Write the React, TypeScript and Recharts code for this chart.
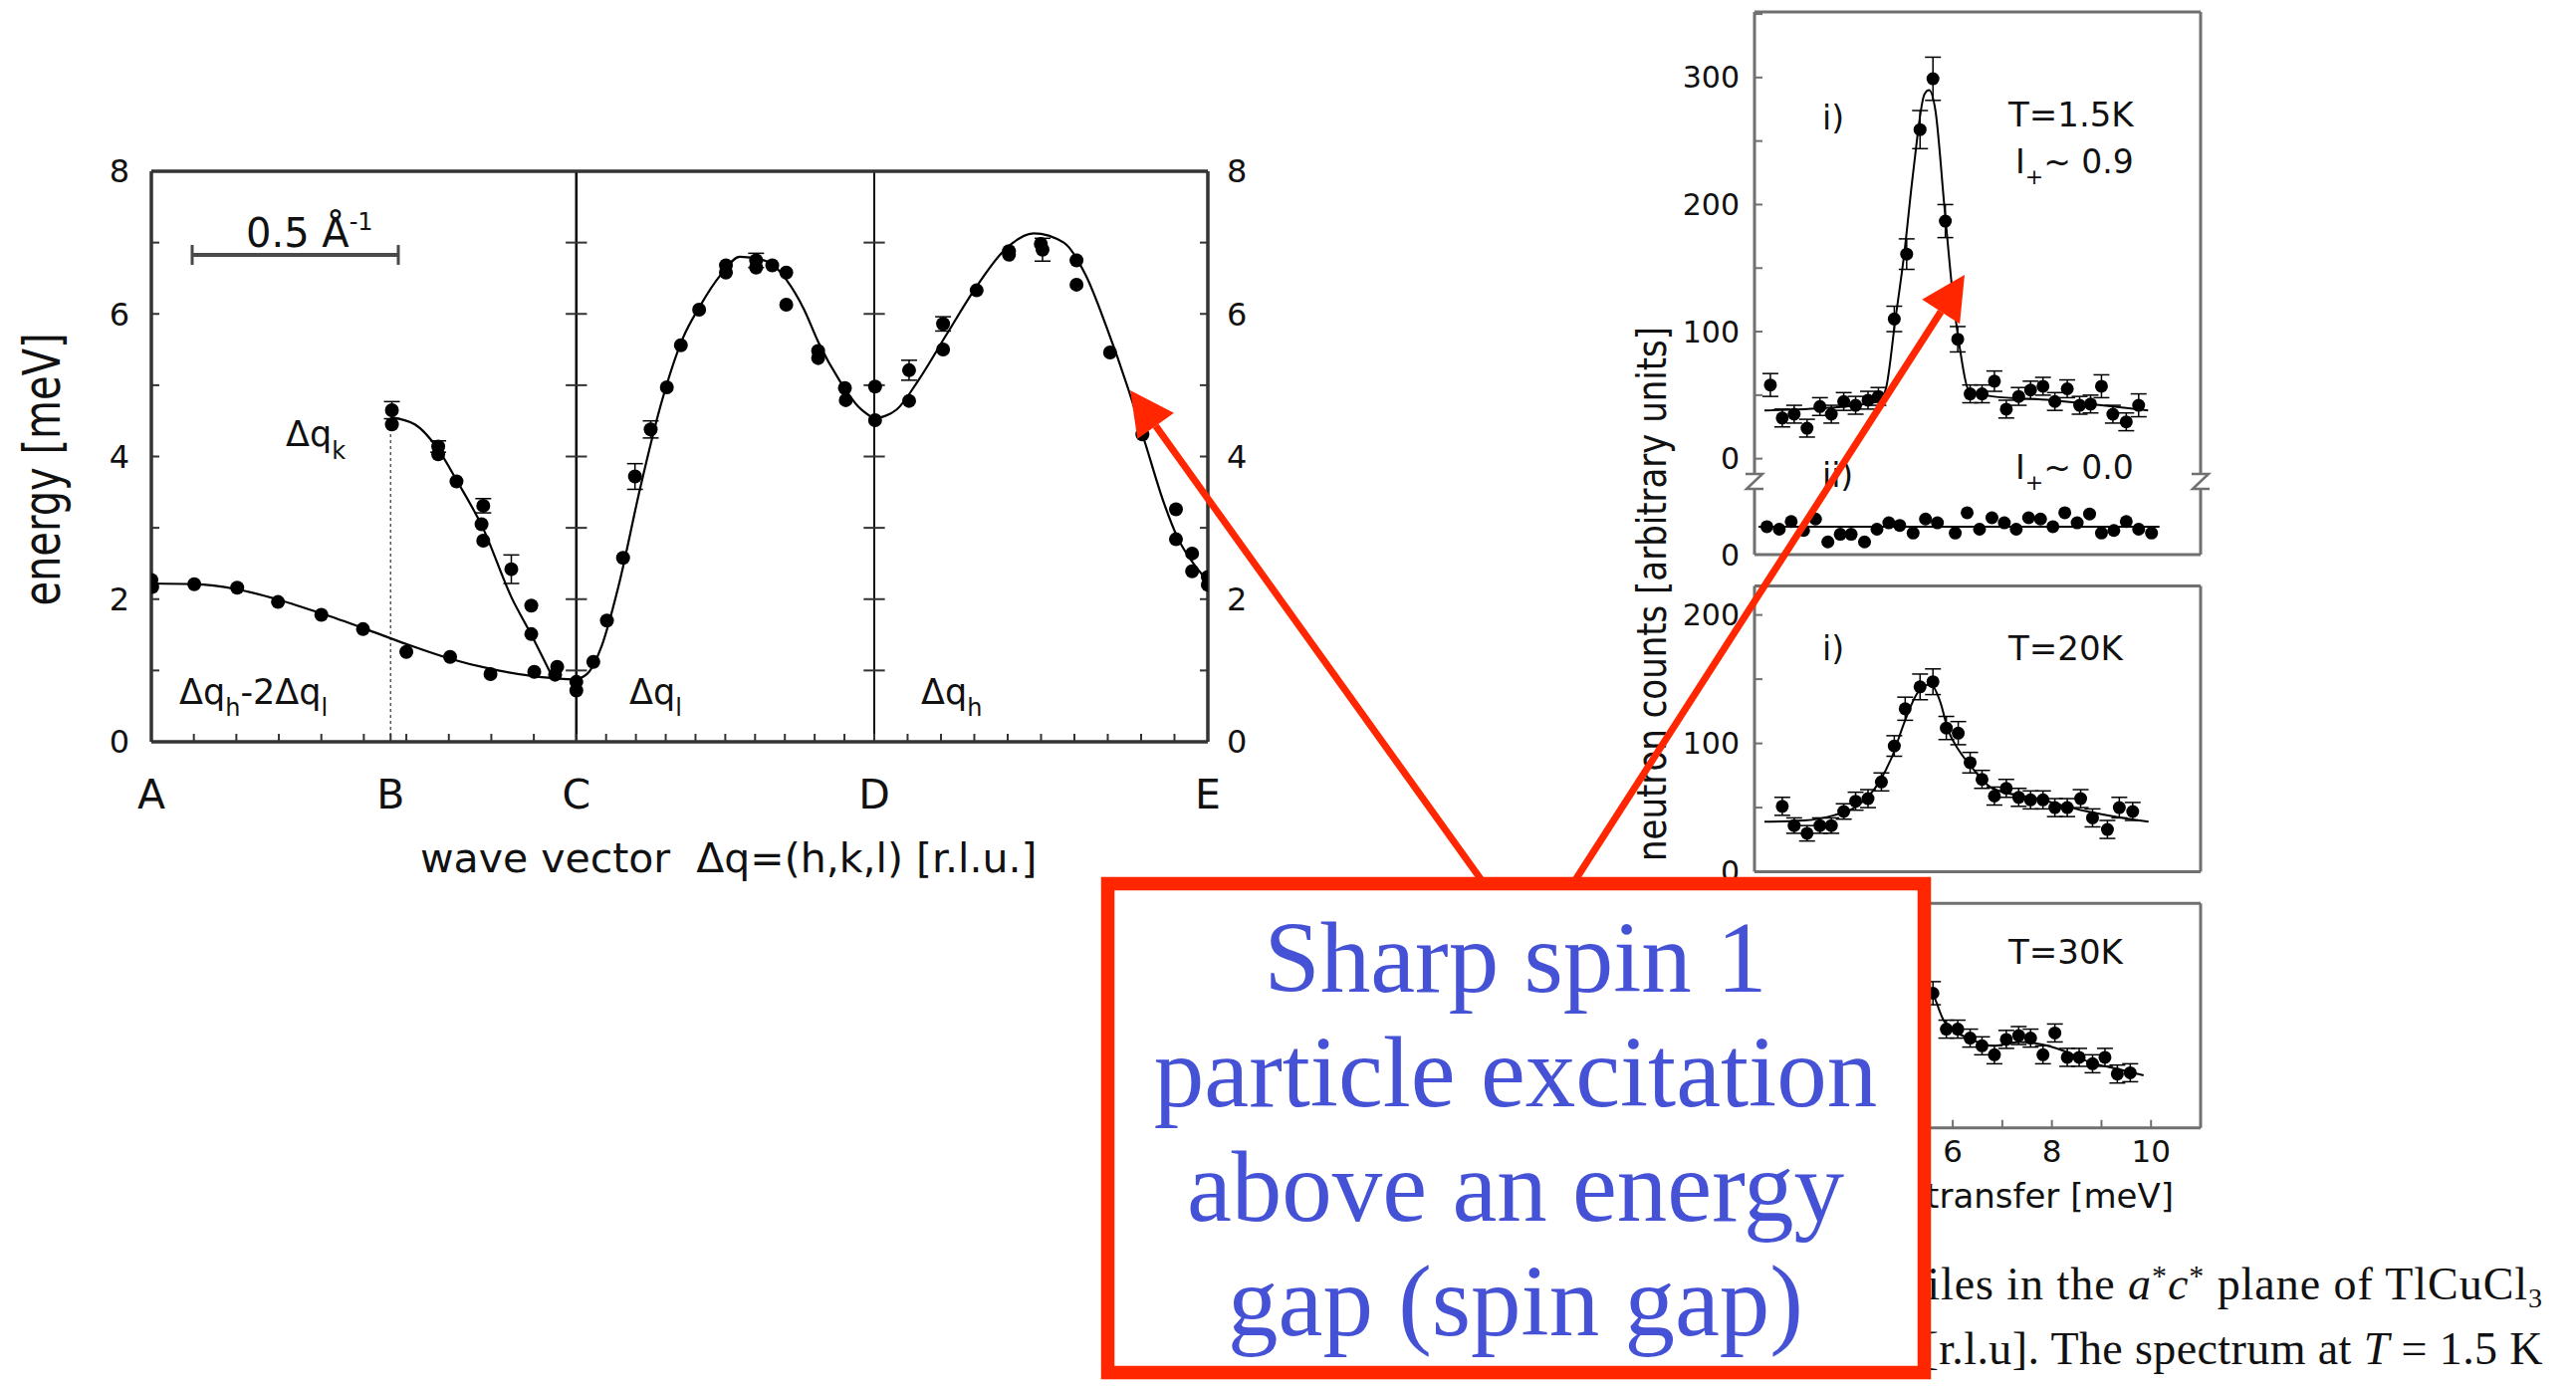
import React from 'react';
import { ComposedChart, Scatter, Line, XAxis, YAxis, ReferenceLine, ErrorBar } from 'recharts';

const SANS = "'DejaVu Sans', Verdana, sans-serif";
const SERIF = "'Liberation Serif', 'Times New Roman', serif";
const INK = '#111';
const FRAME = '#333';
const PANEL_FRAME = '#707070';
const RED = '#ff2600';
const BLUE = '#4552d6';

// ---------- left figure: dispersion along A-B-C-D-E ----------
// x = distance along the path, counted in A–C tick steps
const PATH_LABELS = ['A', 'B', 'C', 'D', 'E'];
const PATH_POS = [0, 5.63, 10, 17.01, 24.86];
const SEGMENT_ENDS = [0, 10, 17.01, 24.86]; // A, C, D, E (10 ticks per segment)
const ENERGY_TICKS = [0, 1, 2, 3, 4, 5, 6, 7, 8];
const CROSS_TICKS = [1, 2, 3, 4, 5, 6, 7];

// Δqh-2Δql  (A -> C)
const HL_X = [0, 0.02, 1.01, 2.02, 2.98, 4.0, 4.98, 6.0, 7.03, 7.98, 9.01];
const HL_E = [2.27, 2.17, 2.21, 2.16, 1.96, 1.78, 1.58, 1.26, 1.19, 0.95, 0.98];
const HL_FIT_X = [0, 1, 2, 3, 4, 5, 6, 7, 8, 9, 10];
const HL_FIT_E = [2.22, 2.21, 2.14, 1.99, 1.8, 1.59, 1.37, 1.17, 1.02, 0.92, 0.87];

// Δqk  (B -> C)
const K_X = [5.66, 5.66, 6.75, 6.75, 7.18, 7.81, 7.77, 7.81, 8.47, 8.94, 8.94, 9.55, 9.5];
const K_E = [4.65, 4.45, 4.14, 4.03, 3.65, 3.31, 3.05, 2.82, 2.42, 1.91, 1.51, 1.05, 0.94];
const K_ERR = [0.12, 0, 0.08, 0, 0, 0.1, 0, 0, 0.2, 0, 0, 0, 0];
const K_FIT_X = [5.63, 6.2, 6.75, 7.2, 7.8, 8.47, 8.94, 9.46];
const K_FIT_E = [4.55, 4.45, 4.1, 3.65, 3.0, 2.03, 1.5, 0.88];

// Δql  (C -> D)
const L_X = [10.0, 10.0, 10.4, 10.72, 11.1, 11.38, 11.75, 12.13, 12.46, 12.89, 13.52, 13.52, 14.23, 14.23, 14.61, 14.94, 14.94, 15.69, 15.69, 16.32, 16.34];
const L_E = [0.84, 0.72, 1.12, 1.7, 2.58, 3.72, 4.38, 4.97, 5.56, 6.06, 6.68, 6.58, 6.75, 6.65, 6.68, 6.58, 6.13, 5.48, 5.38, 4.96, 4.79];
const L_ERR = [0, 0, 0, 0, 0, 0.18, 0.12, 0, 0, 0, 0, 0, 0.1, 0, 0, 0, 0, 0, 0, 0, 0];
const L_FIT_X = [10, 10.3, 10.6, 11.0, 11.5, 12.0, 12.5, 12.9, 13.4, 13.85, 14.52, 14.94, 15.36, 15.69, 16.2, 16.62, 17.01];
const L_FIT_E = [0.87, 0.98, 1.35, 2.2, 3.55, 4.75, 5.65, 6.1, 6.55, 6.8, 6.73, 6.48, 6.06, 5.61, 5.06, 4.71, 4.53];

// Δqh  (D -> E)
const H_X = [17.03, 17.03, 17.83, 17.83, 18.63, 18.63, 19.42, 20.18, 20.18, 20.93, 20.97, 21.77, 21.77, 22.56, 23.32, 24.11, 24.11, 24.49, 24.49, 24.86, 24.86];
const H_E = [4.98, 4.51, 5.21, 4.78, 5.86, 5.5, 6.33, 6.88, 6.83, 6.98, 6.9, 6.75, 6.41, 5.46, 4.31, 3.26, 2.84, 2.64, 2.39, 2.31, 2.2];
const H_ERR = [0, 0, 0.14, 0, 0.1, 0, 0, 0, 0, 0, 0.16, 0, 0, 0, 0, 0, 0, 0, 0, 0, 0];
const H_FIT_X = [17.01, 17.54, 18.04, 18.71, 19.38, 20.05, 20.76, 21.47, 21.98, 22.48, 22.98, 23.4, 23.82, 24.15, 24.57, 24.86];
const H_FIT_E = [4.53, 4.66, 5.06, 5.71, 6.35, 6.88, 7.13, 7.0, 6.55, 5.81, 4.96, 4.16, 3.36, 2.86, 2.46, 2.26];

// ---------- right figure: neutron spectra ----------
const TRANSFER_DOMAIN = [2, 11];
const TRANSFER_TICKS = [2, 3, 4, 5, 6, 7, 8, 9, 10];
const TRANSFER_LABELS = [6, 8, 10]; // 2 and 4 sit behind the callout box

// i) T = 1.5 K
const S1_E = [2.32, 2.56, 2.8, 3.06, 3.32, 3.55, 3.8, 4.04, 4.29, 4.5, 4.82, 5.07, 5.34, 5.6, 5.85, 6.1, 6.35, 6.59, 6.84, 7.08, 7.33, 7.57, 7.82, 8.06, 8.31, 8.56, 8.78, 9.0, 9.23, 9.5, 9.75];
const S1_C = [58, 32, 35, 24, 41, 35, 45, 42, 46, 49, 110, 161, 259, 299, 187, 94, 51, 51, 61, 39, 49, 54, 57, 45, 55, 42, 43, 57, 35, 29, 42];
const S1_ERR = [9, 7, 7, 7, 7, 7, 7, 7, 7, 7, 10, 12, 15, 17, 13, 10, 7, 7, 8, 7, 7, 7, 7, 7, 7, 7, 7, 9, 7, 7, 9];
const S1_FIT_E = [2.2, 3.5, 4.5, 4.65, 4.84, 5.02, 5.2, 5.43, 5.52, 5.65, 5.83, 6.0, 6.15, 6.32, 6.8, 8.0, 9.0, 9.94];
const S1_FIT_C = [38, 40, 45, 55, 109, 161, 225, 287, 290, 274, 199, 129, 85, 54, 49, 46, 42, 38];

// ii) I+ ~ 0.0
const S2_E = [2.25, 2.5, 2.74, 2.99, 3.23, 3.48, 3.73, 3.95, 4.22, 4.47, 4.71, 4.93, 5.2, 5.45, 5.69, 6.05, 6.29, 6.54, 6.79, 7.04, 7.28, 7.53, 7.77, 8.02, 8.26, 8.51, 8.76, 9.0, 9.25, 9.5, 9.75, 10.01];
const S2_C = [22, 20, 26, 19, 28, 10, 16, 16, 10, 20, 25, 23, 17, 28, 25, 17, 33, 20, 29, 25, 20, 29, 28, 22, 33, 25, 32, 17, 19, 26, 20, 17];
const S2_FIT_E = [2.08, 10.17];
const S2_FIT_C = [22, 22];
const S2_ZERO = -75.5; // ii) is drawn below i) on the same axis

// T = 20 K
const S3_E = [2.56, 2.8, 3.06, 3.32, 3.55, 3.8, 4.04, 4.29, 4.56, 4.82, 5.04, 5.34, 5.6, 5.87, 6.11, 6.35, 6.59, 6.84, 7.08, 7.33, 7.57, 7.82, 8.06, 8.31, 8.58, 8.82, 9.12, 9.36, 9.63];
const S3_C = [51, 36, 30, 36, 36, 47, 55, 57, 70, 98, 127, 144, 148, 112, 108, 85, 72, 59, 65, 58, 56, 56, 50, 50, 57, 42, 33, 50, 47];
const S3_ERR = [7, 6, 6, 6, 6, 6, 7, 7, 7, 8, 9, 10, 10, 9, 9, 8, 7, 7, 7, 7, 7, 7, 7, 7, 7, 7, 7, 8, 7];
const S3_FIT_E = [2.2, 3.0, 3.6, 4.1, 4.5, 4.8, 5.0, 5.3, 5.55, 5.75, 5.9, 6.1, 6.35, 6.8, 7.7, 8.6, 9.95];
const S3_FIT_C = [39, 40, 44, 52, 69, 92, 114, 140, 146, 132, 111, 96, 83, 65, 57, 48, 39];

// T = 30 K (left part hidden behind the callout)
const S4_E = [5.6, 5.87, 6.1, 6.35, 6.59, 6.84, 7.08, 7.33, 7.57, 7.82, 8.06, 8.31, 8.55, 8.82, 9.07, 9.32, 9.58];
const S4_C = [105, 77, 77, 70, 64, 57, 69, 72, 70, 57, 74, 55, 55, 50, 55, 42, 43];
const S4_ERR = [9, 7, 7, 7, 7, 7, 7, 7, 7, 7, 7, 7, 7, 7, 7, 7, 7];
const S4_FIT_E = [5.4, 5.6, 5.83, 6.37, 6.81, 7.35, 7.8, 8.24, 8.78, 9.32, 9.85];
const S4_FIT_C = [112, 104, 83, 69, 64, 67, 65, 60, 51, 46, 41];

const BOX_LINES = ['Sharp spin 1', 'particle excitation', 'above an energy', 'gap (spin gap)'];

// ---------- helpers ----------
const rows = (xs: number[], ys: number[], errs?: number[], shift = 0) =>
  xs.map((x, i) => ({ x, y: ys[i] + shift, err: errs ? errs[i] : 0 }));

const pathTicks: number[] = [];
for (let s = 0; s < 3; s++) {
  for (let k = 0; k < 10; k++) {
    pathTicks.push(SEGMENT_ENDS[s] + ((SEGMENT_ENDS[s + 1] - SEGMENT_ENDS[s]) * k) / 10);
  }
}
pathTicks.push(SEGMENT_ENDS[3]);
const bottomPathTicks = [...pathTicks, PATH_POS[1]].sort((a, b) => a - b);

const pathLabel = (v: number) => {
  const i = PATH_POS.findIndex((p) => Math.abs(p - v) < 1e-6);
  return i >= 0 ? PATH_LABELS[i] : '';
};
const evenLabel = (v: number) => (v % 2 === 0 ? String(v) : '');
const hundreds = (v: number) => (v % 100 === 0 ? String(v) : '');
const transferLabel = (v: number) => (TRANSFER_LABELS.includes(v) ? String(v) : '');

// tick renderer that skips the unlabelled (minor) ticks
const labelTick = (fmt: (v: number) => string, fontSize: number) => (props: any) => {
  const label = fmt(props.payload.value);
  if (!label) return <g />;
  const dy = props.verticalAnchor === 'start' ? '0.71em' : '0.355em';
  return (
    <text x={props.x} y={props.y} dy={dy} textAnchor={props.textAnchor}
      fontSize={fontSize} fontFamily={SANS} fill={INK}>{label}</text>
  );
};

const dot = (r: number) => (p: any) => <circle cx={p.cx} cy={p.cy} r={r} fill="#000" />;

const frameLine = { stroke: FRAME, strokeWidth: 3.5 };
const frameTick = { stroke: FRAME, strokeWidth: 2 };

function Dispersion() {
  const points = [
    ...rows(HL_X, HL_E),
    ...rows(K_X, K_E, K_ERR),
    ...rows(L_X, L_E, L_ERR),
    ...rows(H_X, H_E, H_ERR),
  ];
  const fits = [
    rows(HL_FIT_X, HL_FIT_E),
    rows(K_FIT_X, K_FIT_E),
    rows(L_FIT_X, L_FIT_E),
    rows(H_FIT_X, H_FIT_E),
  ];
  return (
    <div style={{ position: 'absolute', left: 0, top: 0 }}>
      <ComposedChart width={1300} height={900} margin={{ top: 171, right: 27, bottom: 95, left: 72 }}>
        <XAxis xAxisId="q" dataKey="x" type="number" domain={[0, PATH_POS[4]]} allowDataOverflow
          ticks={bottomPathTicks} interval={0} height={60}
          tickSize={-8} tickMargin={46} axisLine={frameLine} tickLine={frameTick}
          tick={labelTick(pathLabel, 41)} />
        <XAxis xAxisId="qt" orientation="top" type="number" domain={[0, PATH_POS[4]]} allowDataOverflow
          ticks={pathTicks} interval={0} height={1} tickSize={-8} tick={false}
          axisLine={frameLine} tickLine={frameTick} />
        <YAxis yAxisId="e" dataKey="y" type="number" domain={[0, 8]} allowDataOverflow
          ticks={ENERGY_TICKS} interval={0} width={80} tickSize={-8} tickMargin={30}
          axisLine={frameLine} tickLine={frameTick} tick={labelTick(evenLabel, 32)} />
        <YAxis yAxisId="er" orientation="right" type="number" domain={[0, 8]} allowDataOverflow
          ticks={ENERGY_TICKS} interval={0} width={60} tickSize={-8} tickMargin={27}
          axisLine={frameLine} tickLine={frameTick} tick={labelTick(evenLabel, 32)} />

        <ReferenceLine xAxisId="q" yAxisId="e" x={PATH_POS[2]} stroke="#000" strokeWidth={2.5} />
        <ReferenceLine xAxisId="q" yAxisId="e" x={PATH_POS[3]} stroke="#111" strokeWidth={2} />
        <ReferenceLine xAxisId="q" yAxisId="e" segment={[{ x: PATH_POS[1], y: 0 }, { x: PATH_POS[1], y: 4.4 }]}
          stroke="#555" strokeWidth={1.5} strokeDasharray="3 3" />
        {[PATH_POS[2], PATH_POS[3]].flatMap((px) =>
          CROSS_TICKS.map((e) => (
            <ReferenceLine key={`c${px}-${e}`} xAxisId="q" yAxisId="e"
              segment={[{ x: px - 0.25, y: e }, { x: px + 0.25, y: e }]} stroke="#333" strokeWidth={2} />
          ))
        )}

        {fits.map((f, i) => (
          <Line key={`fit${i}`} xAxisId="q" yAxisId="e" data={f} dataKey="y" type="monotone"
            stroke="#000" strokeWidth={2.2} dot={false} activeDot={false} isAnimationActive={false} />
        ))}
        <Scatter xAxisId="q" yAxisId="e" data={points} shape={dot(7)} isAnimationActive={false}>
          <ErrorBar dataKey="err" direction="y" width={8} stroke="#000" strokeWidth={1.5} />
        </Scatter>
      </ComposedChart>
    </div>
  );
}

type Series = { points: any[]; fit: any[] };

function Panel(p: {
  top: number; height: number; plotTop: number; plotBottom: number;
  yDomain: number[]; yTicks: number[]; yFormat: ((v: number) => string) | null;
  xLabels: boolean; series: Series[];
}) {
  const bottomH = p.xLabels ? 60 : 20;
  const margin = {
    top: p.plotTop - p.top - 1,
    right: 80,
    bottom: p.height - (p.plotBottom - p.top) - bottomH,
    left: 82,
  };
  const line = { stroke: PANEL_FRAME, strokeWidth: 3 };
  const tl = { stroke: PANEL_FRAME, strokeWidth: 2 };
  return (
    <div style={{ position: 'absolute', left: 1600, top: p.top }}>
      <ComposedChart width={700} height={p.height} margin={margin}>
        <XAxis xAxisId="b" dataKey="x" type="number" domain={TRANSFER_DOMAIN} allowDataOverflow
          ticks={TRANSFER_TICKS} interval={0} height={bottomH} tickSize={-8} tickMargin={20}
          axisLine={line} tickLine={tl} tick={p.xLabels ? labelTick(transferLabel, 31) : false} />
        <XAxis xAxisId="t" orientation="top" type="number" domain={TRANSFER_DOMAIN} allowDataOverflow
          ticks={TRANSFER_TICKS} interval={0} height={1} tickSize={-8} tick={false}
          axisLine={line} tickLine={tl} />
        <YAxis yAxisId="l" dataKey="y" type="number" domain={p.yDomain} allowDataOverflow
          ticks={p.yTicks} interval={0} width={80} tickSize={-8} tickMargin={23}
          axisLine={line} tickLine={tl} tick={p.yFormat ? labelTick(p.yFormat, 30) : false} />
        <YAxis yAxisId="r" orientation="right" type="number" domain={p.yDomain} allowDataOverflow
          ticks={p.yTicks} interval={0} width={10} tickSize={-8} tick={false}
          axisLine={line} tickLine={tl} />
        {p.series.map((s, i) => (
          <Line key={`f${i}`} xAxisId="b" yAxisId="l" data={s.fit} dataKey="y" type="monotone"
            stroke="#000" strokeWidth={2} dot={false} activeDot={false} isAnimationActive={false} />
        ))}
        {p.series.map((s, i) => (
          <Scatter key={`s${i}`} xAxisId="b" yAxisId="l" data={s.points} shape={dot(6.5)} isAnimationActive={false}>
            <ErrorBar dataKey="err" direction="y" width={8} stroke="#000" strokeWidth={1.5} />
          </Scatter>
        ))}
      </ComposedChart>
    </div>
  );
}

function Arrow({ x1, y1, x2, y2 }: { x1: number; y1: number; x2: number; y2: number }) {
  const len = Math.hypot(x2 - x1, y2 - y1);
  const ux = (x2 - x1) / len;
  const uy = (y2 - y1) / len;
  const bx = x2 - 44 * ux;
  const by = y2 - 44 * uy;
  const px = -uy * 22.5;
  const py = ux * 22.5;
  return (
    <g>
      <line x1={x1} y1={y1} x2={bx} y2={by} stroke={RED} strokeWidth={7} />
      <polygon points={`${x2},${y2} ${bx + px},${by + py} ${bx - px},${by - py}`} fill={RED} />
    </g>
  );
}

function Overlay() {
  return (
    <svg width={2587} height={1394} style={{ position: 'absolute', left: 0, top: 0 }}>
      <defs>
        <clipPath id="rightOfBox">
          <rect x={1939} y={1170} width={648} height={224} />
        </clipPath>
      </defs>

      {/* left figure annotations */}
      <g fontFamily={SANS} fill={INK}>
        <line x1={193} y1={256} x2={400} y2={256} stroke="#4a4a4a" strokeWidth={4} />
        <line x1={193} y1={246} x2={193} y2={266} stroke="#4a4a4a" strokeWidth={3} />
        <line x1={400} y1={246} x2={400} y2={266} stroke="#4a4a4a" strokeWidth={3} />
        <text x={247} y={248} fontSize={40}>0.5 Å<tspan dy={-17} fontSize={24}>-1</tspan></text>
        <text x={287} y={448} fontSize={35}>Δq<tspan dy={13} fontSize={24}>k</tspan></text>
        <text x={180} y={707} fontSize={35}>
          Δq<tspan dy={12} fontSize={24}>h</tspan><tspan dy={-12}>-2Δq</tspan><tspan dy={12} fontSize={24}>l</tspan>
        </text>
        <text x={632} y={707} fontSize={35}>Δq<tspan dy={12} fontSize={24}>l</tspan></text>
        <text x={925} y={707} fontSize={35}>Δq<tspan dy={12} fontSize={24}>h</tspan></text>
        <text x={422} y={876} fontSize={41} style={{ whiteSpace: 'pre' }}>wave vector  Δq=(h,k,l) [r.l.u.]</text>
        <text transform="translate(60,471.5) scale(1.27,1) rotate(-90)" textAnchor="middle" fontSize={40}>energy [meV]</text>
      </g>

      {/* right figure annotations */}
      <g fontFamily={SANS} fill={INK}>
        <text x={1830} y={130} fontSize={33}>i)</text>
        <text x={2017} y={127} fontSize={34}>T=1.5K</text>
        <text x={2024} y={174} fontSize={33}>I<tspan dy={11} fontSize={22}>+</tspan><tspan dy={-11}>~ 0.9</tspan></text>
        <text x={1830} y={489} fontSize={33}>ii)</text>
        <text x={2024} y={481} fontSize={33}>I<tspan dy={11} fontSize={22}>+</tspan><tspan dy={-11}>~ 0.0</tspan></text>
        <text x={1830} y={663} fontSize={33}>i)</text>
        <text x={2017} y={663} fontSize={34}>T=20K</text>
        <text x={2017} y={968} fontSize={34}>T=30K</text>
        <text transform="translate(1673,596.5) scale(1.2,1) rotate(-90)" textAnchor="middle" fontSize={34}>neutron counts [arbitrary units]</text>
        <text x={2183} y={1213} textAnchor="end" fontSize={34} clipPath="url(#rightOfBox)">transfer [meV]</text>
        {/* axis breaks */}
        <rect x={1755} y={475} width={14} height={16} fill="#fff" />
        <path d="M1753,476 L1770,476 L1754,491 L1771,491" fill="none" stroke={PANEL_FRAME} strokeWidth={2.5} />
        <rect x={2203} y={475} width={14} height={16} fill="#fff" />
        <path d="M2201,476 L2218,476 L2202,491 L2219,491" fill="none" stroke={PANEL_FRAME} strokeWidth={2.5} />
      </g>

      {/* caption fragment, cut by the callout box */}
      <g fontFamily={SERIF} fill="#111" fontSize={46} clipPath="url(#rightOfBox)" style={{ whiteSpace: 'pre' }}>
        <text x={2554} y={1305} textAnchor="end" letterSpacing={0.95}>
          iles in the <tspan fontStyle="italic">a</tspan><tspan dy={-14} fontSize={30}>*</tspan>
          <tspan dy={14} fontStyle="italic">c</tspan><tspan dy={-14} fontSize={30}>*</tspan>
          <tspan dy={14}> plane of TlCuCl</tspan><tspan dy={8} fontSize={28}>3</tspan>
        </text>
        <text x={2554} y={1370} textAnchor="end" letterSpacing={0.4}>
          [r.l.u]. The spectrum at <tspan fontStyle="italic">T</tspan> = 1.5 K
        </text>
      </g>

      {/* callout box */}
      <rect x={1112.5} y={887.5} width={820} height={491} fill="#fff" stroke={RED} strokeWidth={13.5} />
      <g fontFamily={SERIF} fill={BLUE} fontSize={101} textAnchor="middle">
        {BOX_LINES.map((t, i) => (
          <text key={t} x={1522} y={996 + i * 115}>{t}</text>
        ))}
      </g>
      <Arrow x1={1490} y1={887} x2={1135} y2={392} />
      <Arrow x1={1580} y1={887} x2={1973} y2={276} />
    </svg>
  );
}

export default function App() {
  return (
    <div style={{ position: 'absolute', left: 0, top: 0, width: 2587, height: 1394, background: '#fff', overflow: 'hidden' }}>
      <Dispersion />
      <Panel top={0} height={600} plotTop={12} plotBottom={557}
        yDomain={[S2_ZERO, 351.6]} yTicks={[S2_ZERO, 0, 50, 100, 150, 200, 250, 300, 350]}
        yFormat={(v) => (v === S2_ZERO ? '0' : hundreds(v))} xLabels={false}
        series={[
          { points: rows(S1_E, S1_C, S1_ERR), fit: rows(S1_FIT_E, S1_FIT_C) },
          { points: rows(S2_E, S2_C, undefined, S2_ZERO), fit: rows(S2_FIT_E, S2_FIT_C, undefined, S2_ZERO) },
        ]} />
      <Panel top={560} height={340} plotTop={588.6} plotBottom={875.6}
        yDomain={[0, 222.5]} yTicks={[0, 50, 100, 150, 200]} yFormat={hundreds} xLabels={false}
        series={[{ points: rows(S3_E, S3_C, S3_ERR), fit: rows(S3_FIT_E, S3_FIT_C) }]} />
      <Panel top={880} height={320} plotTop={907.3} plotBottom={1132.8}
        yDomain={[0, 175]} yTicks={[0, 50, 100, 150]} yFormat={null} xLabels={true}
        series={[{ points: rows(S4_E, S4_C, S4_ERR), fit: rows(S4_FIT_E, S4_FIT_C) }]} />
      <Overlay />
    </div>
  );
}
